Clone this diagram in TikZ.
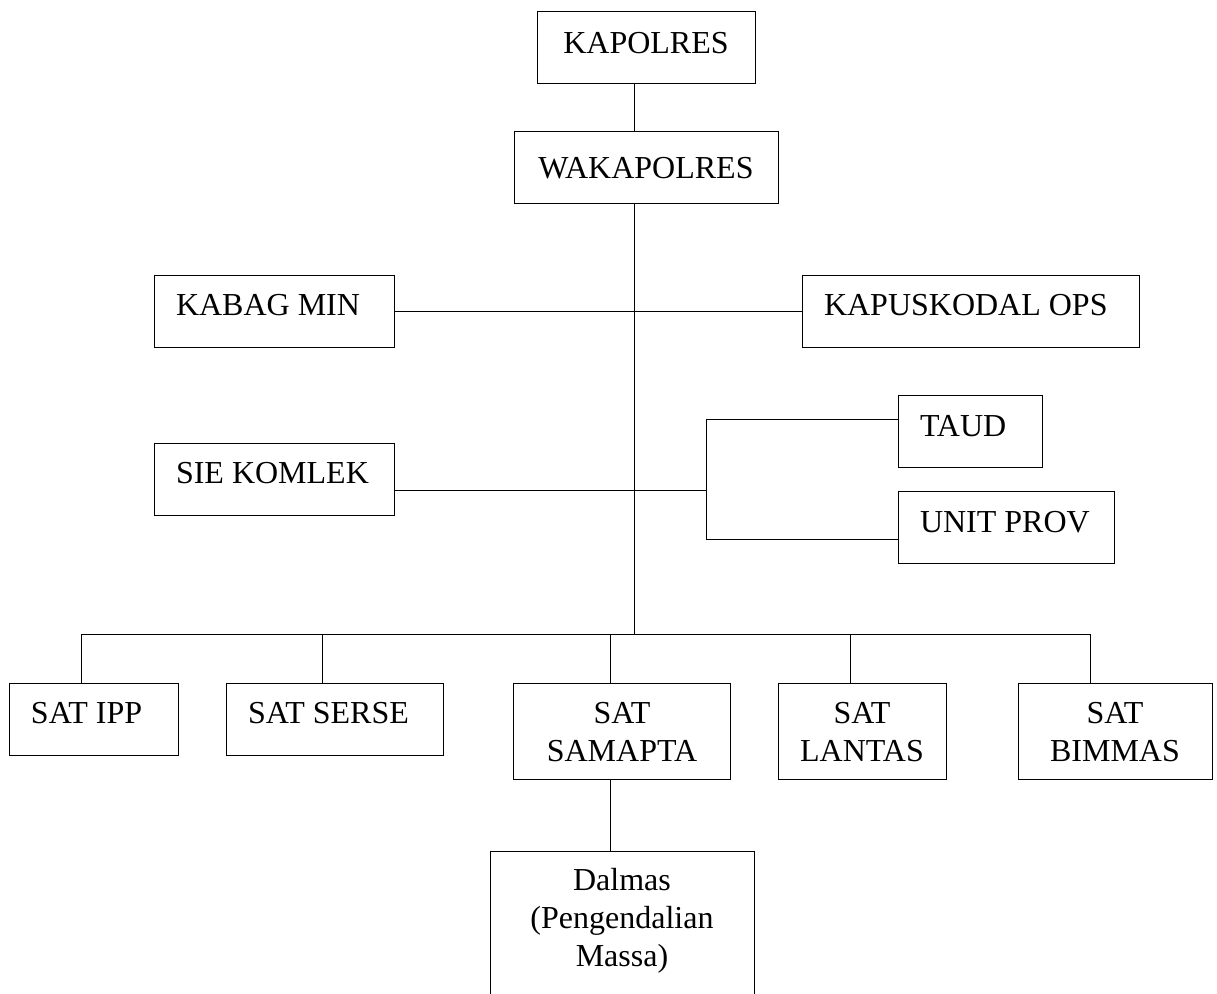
\documentclass[tikz,border=0pt]{standalone}
\usepackage{fontspec}
\setmainfont{Liberation Serif}
\usetikzlibrary{positioning}
\tikzset{
x=0.5pt, y=-0.5pt, % one unit is one pixel of the scanned chart
line width=1pt,
unit/.style={draw, inner xsep=11pt, inner ysep=0pt, align=flush left, text height=20pt, text depth=16pt, font=\fontsize{16}{19}\selectfont}, % text sits top left, as in the chart
unitc/.style={unit, inner xsep=4pt, align=flush center}, % centred text
}

\begin{document}
\begin{tikzpicture}
            \clip (0,0) rectangle (1217,993);
            \node[unitc, text width=101pt, text height=21pt, text depth=15pt] (kapolres) at (646,47) {KAPOLRES};
            \node[unitc, text width=124pt, text height=23.5pt, text depth=12.5pt] (wakapolres) at (646,167) {WAKAPOLRES};
            \node[unit, text width=98pt] (kabagmin) at (274,311) {KABAG MIN};
            \node[unit, text width=146.5pt] (kapuskodal) at (970.5,311) {KAPUSKODAL OPS};
            \node[unit, text width=50pt, text height=20.5pt, text depth=15.5pt] (taud) at (970,431) {TAUD};
            \node[unit, text width=98pt] (siekomlek) at (274,479) {SIE KOMLEK};
            \node[unit, text width=86pt, text height=20.5pt, text depth=15.5pt] (unitprov) at (1006,527) {UNIT PROV};
            \node[unit, text width=62.5pt] (satipp) at (93.5,719) {SAT IPP};
            \node[unit, text width=86.5pt] (satserse) at (334.5,719) {SAT SERSE};
            \node[unitc, text width=100.5pt, text depth=28pt] (satsamapta) at (622,731) {SAT\\SAMAPTA};
            \node[unitc, text width=76pt, text depth=28pt] (satlantas) at (862,731) {SAT\\LANTAS};
            \node[unitc, text width=89pt, text depth=28pt] (satbimmas) at (1115,731) {SAT\\BIMMAS};
            \node[unitc, text width=124pt, text height=19.5pt, text depth=60pt] (dalmas) at (622,930.5) {Dalmas\\(Pengendalian\\Massa)};
            \coordinate (spine) at (634,635);
            \coordinate (fork) at (706,490);
            \coordinate (forktop) at (706,419);
            \coordinate (forkbot) at (706,539);
            \draw
                (kapolres.south -| spine) -- (wakapolres.north -| spine)
                (wakapolres.south -| spine) -- (spine)
                (kabagmin.east) -- (kapuskodal.west)
                (siekomlek.east |- fork) -- (fork)
                (taud.west |- forktop) -- (forktop) -- (forkbot) -- (unitprov.west |- forkbot)
                ;
            \draw
                ([xshift=-6pt]satipp.north) -- ++(0,-48) -- ++(1009,0) -- ++(0,48)
                ([xshift=-6pt]satserse.north) -- ++(0,-48)
                ([xshift=-6pt]satsamapta.north) -- ++(0,-48)
                ([xshift=-6pt]satlantas.north) -- ++(0,-48)
                ([xshift=-6pt]satsamapta.south) -- ([xshift=-6pt]dalmas.north)
                ;
\end{tikzpicture}
\end{document}
